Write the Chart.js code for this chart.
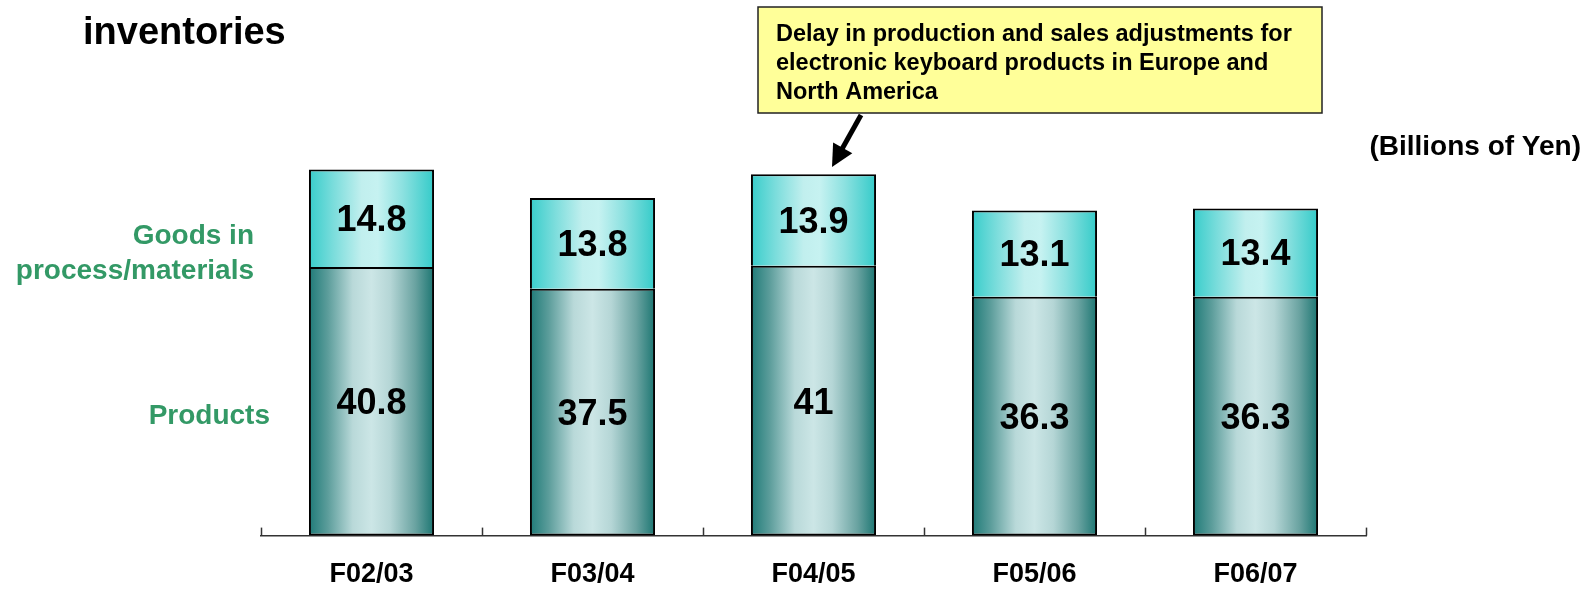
<!DOCTYPE html>
<html>
<head>
<meta charset="utf-8">
<script src="https://cdn.jsdelivr.net/npm/chart.js@4/dist/chart.umd.min.js"></script>
<style>
  html, body { margin: 0; padding: 0; background: #fff; overflow: hidden; }
  #wrap { width: 1596px; height: 590px; position: relative; overflow: hidden; }
</style>
</head>
<body>
<div id="wrap"><canvas id="myChart" width="1596" height="614"></canvas></div>
<script>
const categories = ["F02/03", "F03/04", "F04/05", "F05/06", "F06/07"];
const products = [40.8, 37.5, 41, 36.3, 36.3];
const goodsInProcess = [14.8, 13.8, 13.9, 13.1, 13.4];

const FONT = '"Liberation Sans", Arial, "Noto Sans CJK JP", sans-serif';
const BAR_PCT = 0.566;

// horizontal shading across each bar
function barGradient(stops) {
  return (ctx) => {
    const chart = ctx.chart;
    const area = chart.chartArea;
    if (!area || !chart.scales.x) return stops[0][1];
    const x = chart.scales.x.getPixelForValue(ctx.dataIndex);
    const w = (area.width / categories.length) * BAR_PCT;
    const g = chart.ctx.createLinearGradient(x - w / 2, 0, x + w / 2, 0);
    stops.forEach(([p, c]) => g.addColorStop(p, c));
    return g;
  };
}

const productStops = [
  [0, "#1f7b78"], [0.15, "#5c9d9b"], [0.35, "#b9d9d9"],
  [0.5, "#cce6e6"], [0.65, "#b5d6d6"], [0.85, "#6aa3a1"], [1, "#1c7672"],
];
const goodsStops = [
  [0, "#38cdcb"], [0.2, "#7cdddc"], [0.42, "#c1efee"],
  [0.55, "#c6f2f1"], [0.75, "#8ce1e0"], [1, "#34cbc9"],
];

const data = {
  labels: categories,
  datasets: [
    {
      label: "Products",
      data: products,
      backgroundColor: barGradient(productStops),
      borderColor: "#000",
      borderWidth: 2,
      borderSkipped: false,
    },
    {
      label: "Goods in process/materials",
      data: goodsInProcess,
      backgroundColor: barGradient(goodsStops),
      borderColor: "#000",
      borderWidth: 2,
      borderSkipped: "bottom",
    },
  ],
};

// values inside each segment
const valueLabels = {
  id: "valueLabels",
  afterDatasetsDraw(chart) {
    const ctx = chart.ctx;
    ctx.save();
    ctx.font = "bold 36px " + FONT;
    ctx.fillStyle = "#000";
    ctx.textAlign = "center";
    ctx.textBaseline = "middle";
    chart.data.datasets.forEach((ds, di) => {
      chart.getDatasetMeta(di).data.forEach((bar, i) => {
        const y = (bar.y + bar.base) / 2 + 3;
        ctx.fillText(String(ds.data[i]), bar.x, y);
      });
    });
    ctx.restore();
  },
};

// small upward ticks between categories + annotations
const extras = {
  id: "extras",
  afterDraw(chart) {
    const ctx = chart.ctx;
    const xs = chart.scales.x;
    const n = categories.length;
    ctx.save();
    ctx.strokeStyle = "#333";
    ctx.lineWidth = 1.5;
    for (let i = 0; i <= n; i++) {
      const x = Math.round(xs.left + (i * xs.width) / n) + 0.5;
      ctx.beginPath();
      ctx.moveTo(x, xs.top);
      ctx.lineTo(x, xs.top - 8);
      ctx.stroke();
    }

    // title
    ctx.fillStyle = "#000";
    ctx.textBaseline = "alphabetic";
    ctx.textAlign = "left";
    ctx.font = "bold 38px " + FONT;
    ctx.fillText("inventories", 83, 44);

    // unit
    ctx.textAlign = "right";
    ctx.font = "bold 28px " + FONT;
    ctx.textBaseline = "middle";
    ctx.fillText("(Billions of Yen)", 1581, 147);

    // series names
    ctx.fillStyle = "#339966";
    ctx.font = "bold 28px " + FONT;
    ctx.fillText("Goods in", 254, 236);
    ctx.fillText("process/materials", 254, 271);
    ctx.fillText("Products", 270, 416);

    // callout
    ctx.fillStyle = "#ffff99";
    ctx.fillRect(758, 7, 564, 106);
    ctx.strokeStyle = "#222";
    ctx.lineWidth = 1.5;
    ctx.strokeRect(758, 7, 564, 106);
    ctx.fillStyle = "#000";
    ctx.textAlign = "left";
    ctx.textBaseline = "alphabetic";
    ctx.font = "bold 23.5px " + FONT;
    ctx.fillText("Delay in production and sales adjustments for", 776, 41);
    ctx.fillText("electronic keyboard products in Europe and", 776, 70);
    ctx.fillText("North America", 776, 99);

    // arrow
    const x1 = 861, y1 = 115, x2 = 832, y2 = 167;
    const ang = Math.atan2(y2 - y1, x2 - x1);
    ctx.strokeStyle = "#000";
    ctx.lineWidth = 5;
    ctx.beginPath();
    ctx.moveTo(x1, y1);
    ctx.lineTo(x2 - 16 * Math.cos(ang), y2 - 16 * Math.sin(ang));
    ctx.stroke();
    const hl = 22, hw = 11;
    ctx.beginPath();
    ctx.moveTo(x2, y2);
    ctx.lineTo(x2 - hl * Math.cos(ang) + hw * Math.sin(ang), y2 - hl * Math.sin(ang) - hw * Math.cos(ang));
    ctx.lineTo(x2 - hl * Math.cos(ang) - hw * Math.sin(ang), y2 - hl * Math.sin(ang) + hw * Math.cos(ang));
    ctx.closePath();
    ctx.fill();
    ctx.restore();
  },
};

const config = {
  type: "bar",
  data,
  options: {
    responsive: false,
    animation: false,
    layout: { padding: { left: 261, right: 230, top: 9, bottom: 0 } },
    plugins: {
      legend: { display: false },
      tooltip: { enabled: false },
    },
    datasets: {
      bar: { categoryPercentage: 1, barPercentage: BAR_PCT },
    },
    scales: {
      x: {
        stacked: true,
        grid: { display: true, drawOnChartArea: false, drawTicks: false },
        border: { display: true, color: "#333", width: 1.5 },
        ticks: {
          color: "#000",
          padding: 23,
          font: { family: FONT, size: 27, weight: "bold" },
        },
      },
      y: {
        stacked: true,
        display: false,
        min: 0,
        max: 80,
      },
    },
  },
  plugins: [valueLabels, extras],
};

const myChart = new Chart(document.getElementById("myChart"), config);
</script>
</body>
</html>
